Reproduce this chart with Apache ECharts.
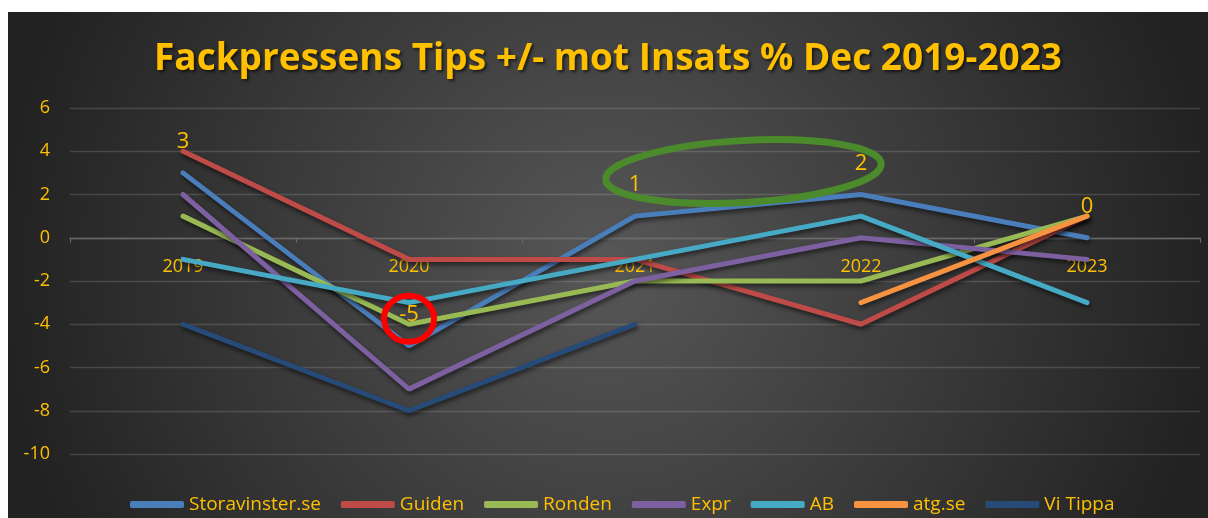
<!DOCTYPE html>
<html>
<head>
<meta charset="utf-8">
<script src="https://cdn.jsdelivr.net/npm/echarts@6/dist/echarts.min.js"></script>
<style>
  html, body { margin: 0; padding: 0; background: #fff; }
  #chart { position: absolute; left: 8px; top: 12px; width: 1200px; height: 506px; }
</style>
</head>
<body>
<div id="chart"></div>
<script>
// data
const years = ['2019', '2020', '2021', '2022', '2023'];
const storavinster = [3, -5, 1, 2, 0];
const guiden = [4, -1, -1, -4, 1];
const ronden = [1, -4, -2, -2, 1];
const expr = [2, -7, -2, 0, -1];
const ab = [-1, -3, -1, 1, -3];
const atg = [null, null, null, -3, 1];
const viTippa = [-4, -8, -4, null, null];

const seriesNames = ['Storavinster.se', 'Guiden', 'Ronden', 'Expr', 'AB', 'atg.se', 'Vi Tippa'];
const seriesData = [storavinster, guiden, ronden, expr, ab, atg, viTippa];
const seriesColors = ['#4A7EBB', '#BE4B48', '#98B954', '#7D60A0', '#46AAC5', '#F69240', '#264B78'];

const gold = '#FFC000';
const font = 'Open Sans';

const chart = echarts.init(document.getElementById('chart'));

const series = seriesNames.map((name, i) => {
  const s = {
    name: name,
    type: 'line',
    data: seriesData[i],
    color: seriesColors[i],
    showSymbol: false,
    symbol: 'none',
    lineStyle: {
      width: 5,
      cap: 'round',
      shadowColor: 'rgba(0,0,0,0.55)',
      shadowBlur: 4,
      shadowOffsetX: 1,
      shadowOffsetY: 3
    },
    emphasis: { disabled: true }
  };
  if (i === 0) {
    // only the first series has data labels
    s.symbol = 'circle';
    s.showSymbol = true;
    s.symbolSize = 0;
    s.label = {
      show: true,
      position: 'top',
      distance: 20,
      color: gold,
      fontFamily: font,
      fontSize: 22
    };
  }
  return s;
});

const option = {
  backgroundColor: {
    type: 'radial', x: 0.5, y: 0.5, r: 1.2,
    colorStops: [
      { offset: 0, color: '#575757' },
      { offset: 1, color: '#222222' }
    ]
  },
  animation: false,
  title: {
    text: 'Fackpressens Tips +/- mot Insats % Dec 2019-2023',
    left: 'center',
    top: 24,
    textStyle: {
      color: gold,
      fontFamily: font,
      fontWeight: 'bold',
      fontSize: 37,
      textShadowColor: 'rgba(0,0,0,0.6)',
      textShadowBlur: 3,
      textShadowOffsetX: 2,
      textShadowOffsetY: 2
    }
  },
  legend: {
    data: seriesNames,
    left: 117,
    top: 478,
    icon: 'roundRect',
    itemWidth: 54,
    itemHeight: 7,
    itemGap: 20,
    textStyle: { color: gold, fontFamily: font, fontSize: 19 }
  },
  grid: { left: 62, right: 8, top: 96, bottom: 64, outerBoundsMode: 'none' },
  xAxis: {
    type: 'category',
    data: years,
    axisLine: { onZero: false, lineStyle: { color: '#6a6a6a', width: 1.3 } },
    axisTick: { show: true, length: 5, lineStyle: { color: '#6a6a6a' } },
    axisLabel: { color: gold, fontFamily: font, fontSize: 18, margin: 20 }
  },
  yAxis: {
    type: 'value',
    min: -10,
    max: 6,
    interval: 2,
    axisLine: { show: false },
    axisTick: { show: false },
    splitLine: { lineStyle: { color: 'rgba(255,255,255,0.14)', width: 1.3 } },
    axisLabel: { color: gold, fontFamily: font, fontSize: 18, margin: 20 }
  },
  series: series
};

chart.setOption(option);

// move the category axis (with its labels) up to the zero line
const zeroY = chart.convertToPixel({ yAxisIndex: 0 }, 0);
const bottomY = chart.convertToPixel({ yAxisIndex: 0 }, -10);
chart.setOption({ xAxis: { offset: zeroY - bottomY } });

// annotation shapes placed in data space
const circleC = chart.convertToPixel({ gridIndex: 0 }, ['2020', -3.75]);
const e1 = chart.convertToPixel({ gridIndex: 0 }, ['2021', 3.06]);
const e2 = chart.convertToPixel({ gridIndex: 0 }, ['2022', 3.06]);
const ex = e1[0] + (e2[0] - e1[0]) * 0.48;

chart.setOption({
  graphic: [
    {
      type: 'ellipse',
      x: circleC[0], y: circleC[1],
      shape: { cx: 0, cy: 0, rx: 25, ry: 23 },
      style: { fill: null, stroke: '#FF0000', lineWidth: 6 },
      z: 100
    },
    {
      type: 'ellipse',
      x: ex, y: e1[1],
      rotation: 0.057,
      shape: { cx: 0, cy: 0, rx: 138, ry: 31 },
      style: { fill: null, stroke: '#4B8B2B', lineWidth: 7 },
      z: 100
    }
  ]
});
</script>
</body>
</html>
